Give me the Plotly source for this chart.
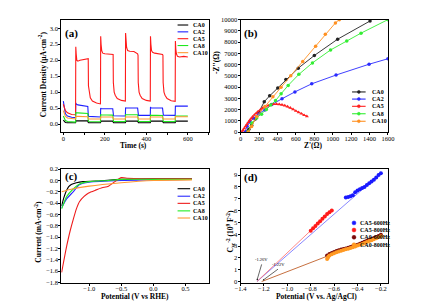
import plotly.graph_objects as go

# ---------------- Panel (a): transient photocurrent ----------------
a_names = ["CA0", "CA2", "CA5", "CA8", "CA10"]
a_colors = ["#000000", "#1f1fff", "#ff1a1a", "#1ee81e", "#ff9933"]

t_ca5 = [0, 5, 10, 20, 40, 59, 60, 62, 65, 70, 80, 100, 118, 120, 121, 125, 130, 140, 160, 179,
         180, 182, 185, 190, 200, 220, 238, 240, 241, 245, 250, 260, 280, 299,
         300, 302, 305, 310, 320, 340, 358, 360, 361, 365, 370, 380, 400, 419,
         420, 422, 425, 430, 440, 460, 478, 480, 481, 485, 490, 500, 520, 539,
         540, 542, 545, 550, 560, 580, 600]
v_ca5 = [0.62, 0.5, 0.42, 0.35, 0.3, 0.29, 2.42, 2.2, 2.0, 1.97, 2.0, 2.03, 2.07, 2.05, 1.2, 0.95, 0.82, 0.72, 0.66, 0.63,
         2.75, 2.5, 2.3, 2.22, 2.2, 2.2, 2.2, 2.18, 1.3, 1.0, 0.9, 0.8, 0.74, 0.72,
         2.85, 2.6, 2.4, 2.3, 2.28, 2.27, 2.2, 2.15, 1.3, 1.0, 0.9, 0.8, 0.74, 0.72,
         2.75, 2.5, 2.3, 2.25, 2.22, 2.2, 2.18, 2.15, 1.3, 1.0, 0.9, 0.8, 0.73, 0.71,
         2.6, 2.35, 2.2, 2.12, 2.1, 2.12, 2.1]

t_step = [0, 5, 10, 20, 40, 59, 60, 62, 70, 90, 118, 120, 122, 179, 180, 182, 238, 240, 242, 299,
          300, 302, 358, 360, 362, 419, 420, 422, 478, 480, 482, 539, 540, 542, 600]
v_ca2 = [0.72, 0.45, 0.32, 0.25, 0.21, 0.2, 0.66, 0.63, 0.6, 0.57, 0.55, 0.3, 0.24, 0.22, 0.5, 0.48, 0.48,
         0.3, 0.26, 0.25, 0.52, 0.5, 0.5, 0.3, 0.27, 0.27, 0.53, 0.51, 0.5, 0.3, 0.28, 0.27, 0.57, 0.56, 0.56]
v_ca8 = [0.25, 0.16, 0.11, 0.08, 0.07, 0.06, 0.36, 0.35, 0.35, 0.34, 0.33, 0.12, 0.08, 0.07, 0.3, 0.29, 0.28,
         0.1, 0.08, 0.08, 0.3, 0.29, 0.29, 0.1, 0.08, 0.08, 0.29, 0.28, 0.27, 0.1, 0.08, 0.08, 0.26, 0.25, 0.25]
v_ca10 = [0.42, 0.3, 0.24, 0.19, 0.17, 0.16, 0.25, 0.24, 0.24, 0.23, 0.23, 0.18, 0.16, 0.16, 0.23, 0.22, 0.22,
          0.18, 0.16, 0.16, 0.23, 0.22, 0.22, 0.18, 0.16, 0.16, 0.23, 0.22, 0.22, 0.18, 0.16, 0.16, 0.24, 0.23, 0.23]
v_ca0 = [0.12, 0.07, 0.05, 0.04, 0.04, 0.04, 0.1, 0.1, 0.1, 0.1, 0.1, 0.05, 0.04, 0.04, 0.09, 0.09, 0.09,
         0.05, 0.04, 0.04, 0.09, 0.09, 0.09, 0.05, 0.04, 0.04, 0.09, 0.09, 0.09, 0.05, 0.04, 0.04, 0.09, 0.09, 0.09]

# ---------------- Panel (b): Nyquist ----------------
b_ca0_x = [63, 90, 120, 160, 200, 257, 316, 404, 492, 626, 801, 1054, 1406]
b_ca0_y = [0, 250, 600, 1150, 1750, 2700, 3220, 3910, 4670, 5680, 6810, 8260, 9880]
b_ca2_x = [50, 70, 100, 140, 190, 264, 340, 450, 590, 773, 1037, 1395, 1600]
b_ca2_y = [0, 520, 900, 1250, 1600, 1970, 2450, 2960, 3570, 4290, 5070, 6030, 6520]
b_ca5_x = [14, 25, 40, 55, 70, 85, 100, 115, 130, 150, 170, 190, 215, 240, 270, 300, 330, 360, 390, 420,
           450, 480, 510, 540, 570, 600, 630, 660, 690, 720]
b_ca5_y = [0, 150, 330, 520, 700, 880, 1050, 1200, 1350, 1520, 1680, 1830, 1990, 2130, 2260, 2360, 2440,
           2480, 2490, 2470, 2420, 2350, 2260, 2150, 2020, 1880, 1750, 1630, 1500, 1400]
b_ca8_x = [80, 123, 175, 228, 280, 327, 380, 440, 517, 633, 780, 977, 1153, 1308, 1600]
b_ca8_y = [0, 810, 1250, 1590, 2000, 2400, 2800, 3400, 4150, 5130, 6150, 7300, 8100, 8800, 10000]
b_ca10_x = [84, 120, 176, 264, 351, 439, 545, 675, 815, 920, 1030, 1072]
b_ca10_y = [0, 500, 1390, 2260, 3130, 3980, 5000, 6280, 7640, 8700, 9710, 10000]

# ---------------- Panel (c): LSV ----------------
c_ca0_x = [-1.43, -1.40, -1.37, -1.35, -1.32, -1.28, -1.2, -1.1, -0.9, -0.5, 0.0, 0.6]
c_ca0_y = [-0.45, -0.32, -0.22, -0.17, -0.11, -0.07, -0.04, -0.02, -0.01, 0.02, 0.03, 0.03]
c_ca2_x = [-1.43, -1.35, -1.25, -1.15, -1.0, -0.5, 0.0, 0.6]
c_ca2_y = [-0.48, -0.32, -0.2, -0.07, -0.03, 0.0, 0.01, 0.02]
c_ca5_x = [-1.43, -1.41, -1.38, -1.35, -1.3, -1.25, -1.2, -1.15, -1.08, -1.01, -0.9, -0.8, -0.7,
           -0.6, -0.5, -0.4, -0.2, 0.0, 0.6]
c_ca5_y = [-1.62, -1.5, -1.32, -1.15, -0.9, -0.69, -0.5, -0.37, -0.28, -0.22, -0.17, -0.13, -0.1,
           -0.02, 0.05, 0.04, 0.03, 0.03, 0.03]
c_ca8_x = [-1.43, -1.35, -1.25, -1.15, -1.0, -0.7, -0.5, 0.0, 0.6]
c_ca8_y = [-0.5, -0.28, -0.15, -0.06, -0.02, 0.0, 0.02, 0.02, 0.02]
c_ca10_x = [-1.43, -1.3, -1.0, -0.5, 0.0, 0.6]
c_ca10_y = [-0.2, -0.16, -0.1, -0.04, 0.0, 0.01]

# ---------------- Panel (d): Mott-Schottky ----------------
d_ca5_600_x = [-0.5, -0.48, -0.46, -0.44, -0.42, -0.4, -0.38, -0.36, -0.34, -0.32, -0.3, -0.28, -0.26, -0.24, -0.22, -0.2]
d_ca5_600_y = [7.1, 7.15, 7.2, 7.3, 7.55, 7.7, 7.8, 7.9, 8.0, 8.15, 8.3, 8.45, 8.6, 8.8, 9.0, 9.15]
d_ca5_800_x = [-0.8, -0.78, -0.76, -0.74, -0.72, -0.7, -0.68, -0.66, -0.64, -0.62]
d_ca5_800_y = [4.3, 4.5, 4.7, 4.9, 5.1, 5.3, 5.5, 5.7, 5.85, 6.0]
d_ca0_600_x = [-0.66, -0.64, -0.62, -0.6, -0.58, -0.56, -0.54, -0.52, -0.5, -0.48, -0.46, -0.44, -0.42,
               -0.4, -0.38, -0.36, -0.34, -0.32, -0.3, -0.28, -0.26, -0.24, -0.22, -0.2]
d_ca0_600_y = [2.2, 2.32, 2.42, 2.5, 2.58, 2.64, 2.7, 2.75, 2.8, 2.86, 2.92, 2.98, 3.05, 3.12, 3.2, 3.28,
               3.36, 3.44, 3.52, 3.6, 3.68, 3.76, 3.85, 3.95]
d_ca0_800_x = [-0.66, -0.655, -0.65, -0.64, -0.62, -0.6, -0.58, -0.56, -0.54, -0.52, -0.5, -0.48, -0.46, -0.44,
               -0.42, -0.4, -0.38, -0.36, -0.34, -0.32, -0.3, -0.28, -0.26, -0.24, -0.22, -0.2]
d_ca0_800_y = [1.9, 2.0, 2.1, 2.2, 2.3, 2.4, 2.48, 2.55, 2.6, 2.66, 2.72, 2.78, 2.84, 2.9, 2.97, 3.04,
               3.11, 3.18, 3.26, 3.34, 3.42, 3.5, 3.58, 3.66, 3.74, 3.82]
d_fit_ca5_blue_x = [-1.26, -0.2]
d_fit_ca5_blue_y = [0.0, 9.15]
d_fit_ca5_red_x = [-1.26, -0.62]
d_fit_ca5_red_y = [0.0, 6.0]
d_fit_ca0_x = [-1.22, -0.2]
d_fit_ca0_y = [0.0, 3.9]
d_names = ["CA5-600Hz", "CA5-800Hz", "CA0-600Hz", "CA0-800Hz"]
d_colors = ["#1a1aff", "#ff1a1a", "#7a0a0a", "#ff9922"]

FONT = "Liberation Serif"
fig = go.Figure()

# (a)
a_x = [t_step, t_step, t_ca5, t_step, t_step]
a_y = [v_ca0, v_ca2, v_ca5, v_ca8, v_ca10]
for n, c, xx, yy in zip(a_names, a_colors, a_x, a_y):
    fig.add_trace(go.Scatter(x=xx, y=yy, mode="lines", line=dict(color=c, width=1.1),
                             xaxis="x", yaxis="y", showlegend=False, name=n))
# (b)
b_x = [b_ca0_x, b_ca2_x, b_ca5_x, b_ca8_x, b_ca10_x]
b_y = [b_ca0_y, b_ca2_y, b_ca5_y, b_ca8_y, b_ca10_y]
b_colors = ["#222222", "#2a2aff", "#ff2020", "#33ee33", "#ff9122"]
b_sym = ["circle", "circle", "triangle-up", "circle", "circle"]
for n, c, xx, yy, s in zip(a_names, b_colors, b_x, b_y, b_sym):
    fig.add_trace(go.Scatter(x=xx, y=yy, mode="lines+markers", line=dict(color=c, width=0.9),
                             marker=dict(color=c, size=3.5, symbol=s),
                             xaxis="x2", yaxis="y2", showlegend=False, name=n))
# (c)
c_x = [c_ca0_x, c_ca2_x, c_ca5_x, c_ca8_x, c_ca10_x]
c_y = [c_ca0_y, c_ca2_y, c_ca5_y, c_ca8_y, c_ca10_y]
c_colors = ["#000000", "#2a2aff", "#ee1c1c", "#22ee22", "#ff9933"]
for n, c, xx, yy in zip(a_names, c_colors, c_x, c_y):
    fig.add_trace(go.Scatter(x=xx, y=yy, mode="lines", line=dict(color=c, width=1.1, shape="spline", smoothing=0.6),
                             xaxis="x3", yaxis="y3", showlegend=False, name=n))
# (d) fit lines
fig.add_trace(go.Scatter(x=d_fit_ca5_blue_x, y=d_fit_ca5_blue_y, mode="lines", line=dict(color="#6a6aff", width=0.8),
                         xaxis="x4", yaxis="y4", showlegend=False))
fig.add_trace(go.Scatter(x=d_fit_ca5_red_x, y=d_fit_ca5_red_y, mode="lines", line=dict(color="#ff6a6a", width=0.8),
                         xaxis="x4", yaxis="y4", showlegend=False))
fig.add_trace(go.Scatter(x=d_fit_ca0_x, y=d_fit_ca0_y, mode="lines", line=dict(color="#c0602a", width=0.9),
                         xaxis="x4", yaxis="y4", showlegend=False))
d_x = [d_ca5_600_x, d_ca5_800_x, d_ca0_600_x, d_ca0_800_x]
d_y = [d_ca5_600_y, d_ca5_800_y, d_ca0_600_y, d_ca0_800_y]
for n, c, xx, yy in zip(d_names, d_colors, d_x, d_y):
    fig.add_trace(go.Scatter(x=xx, y=yy, mode="markers", marker=dict(color=c, size=4),
                             xaxis="x4", yaxis="y4", showlegend=False, name=n))

W, H = 424, 307
def px(x):
    return x / W
def py(y):
    return 1 - y / H

tickf = dict(family=FONT, size=6.5, color="black")
titlef = dict(family=FONT, size=7.5, color="black")

def ax(domain, rng, dtick, anchor, minor=None, fmt=None, standoff=0):
    d = dict(domain=domain, range=rng, anchor=anchor, showgrid=False, zeroline=False,
             showline=True, linecolor="black", linewidth=1, mirror=True,
             ticks="outside", ticklen=2, tickwidth=0.8, tickcolor="black",
             tickfont=tickf, ticklabelstandoff=standoff)
    if dtick is not None:
        d["dtick"] = dtick
    if fmt is not None:
        d["tickformat"] = fmt
    if minor is not None:
        d["minor"] = dict(dtick=minor, ticks="outside", ticklen=1.5, tickcolor="black")
    return d

xa_dom = [px(57), px(209)]
xb_dom = [px(242), px(394)]
ytop_dom = [py(131), py(16)]
ybot_dom = [py(285), py(169)]

fig.update_layout(
    width=W, height=H, margin=dict(l=0, r=0, t=0, b=0),
    paper_bgcolor="white", plot_bgcolor="white", showlegend=False,
    font=dict(family=FONT, color="black"),
    xaxis=ax(xa_dom, [-10, 700], 200, "y", minor=100, fmt="d", standoff=-2),
    yaxis=ax(ytop_dom, [-0.25, 3.27], 0.5, "x", fmt=".1f", standoff=-1),
    xaxis2=ax(xb_dom, [0, 1600], 200, "y2", fmt="d", standoff=-2),
    yaxis2=ax(ytop_dom, [0, 10000], 1000, "x2", fmt="d", standoff=-1),
    xaxis3=ax(xa_dom, [-1.436, 0.86], 0.5, "y3", fmt=".1f", standoff=-2),
    yaxis3=ax(ybot_dom, [-1.8, 0.2], 0.2, "x3", fmt=".1f", standoff=-1),
    xaxis4=ax(xb_dom, [-1.4, -0.14], 0.2, "y4", fmt=".1f", standoff=-2),
    yaxis4=ax(ybot_dom, [-0.08, 9.5], 1, "x4", fmt="d", standoff=-1),
)

shapes = []
annots = []
# axis titles
titles = [
    ("<b>Time (s)</b>", 132, 145, 0),
    ("<b>Current Density (μA·cm<sup>-2</sup>)</b>", 38, 72, -90),
    ("<b>Z'(Ω)</b>", 317, 145, 0),
    ("<b>-Z''(Ω)</b>", 217, 60, -90),
    ("<b>Potential (V vs RHE)</b>", 133, 299.5, 0),
    ("<b>Current (mA·cm<sup>-2</sup>)</b>", 33, 233, -90),
    ("<b>Potential (V vs. Ag/AgCl)</b>", 320, 299.5, 0),
    ("<b>C<sub>sc</sub><sup>-2</sup> (10<sup>9</sup> F<sup>-2</sup>)</b>", 232, 232, -90),
]
for txt, x, y, ang in titles:
    annots.append(dict(text=txt, x=px(x), y=py(y), xref="paper", yref="paper", xanchor="center",
                       yanchor="middle", textangle=ang, showarrow=False, font=titlef))
# panel labels
for lab, x, y in [("(a)", 59, 30), ("(b)", 243, 30), ("(c)", 59, 177), ("(d)", 243, 178)]:
    annots.append(dict(text="<b>%s</b>" % lab, x=px(x), y=py(y), xref="paper", yref="paper",
                       xanchor="left", yanchor="middle", showarrow=False,
                       font=dict(family=FONT, size=11, color="black")))

legf = dict(family=FONT, size=6, color="black")
def line_legend(names, colors, x0, x1, xt, ys, markers=None):
    for i, (n, c, y) in enumerate(zip(names, colors, ys)):
        shapes.append(dict(type="line", xref="paper", yref="paper", x0=px(x0), x1=px(x1), y0=py(y), y1=py(y),
                           line=dict(color=c, width=1.1)))
        if markers:
            xm = (x0 + x1) / 2
            r = 1.5
            shapes.append(dict(type="circle", xref="paper", yref="paper", x0=px(xm - r), x1=px(xm + r),
                               y0=py(y + r), y1=py(y - r), fillcolor=c, line=dict(color=c, width=0.5)))
        annots.append(dict(text="<b>%s</b>" % n, x=px(xt), y=py(y), xref="paper", yref="paper",
                           xanchor="left", yanchor="middle", showarrow=False, font=legf))

line_legend(a_names, a_colors, 177, 188, 191, [21.5, 28.5, 35.5, 42.5, 49.8])
line_legend(a_names, b_colors, 357, 371, 375, [90, 97.3, 104.7, 112.3, 120], markers=True)
line_legend(a_names, c_colors, 177, 190, 191, [189, 196.7, 204, 211.7, 219])
for n, c, y in zip(d_names, d_colors, [224, 231.3, 238.7, 246.3]):
    shapes.append(dict(type="circle", xref="paper", yref="paper", x0=px(357), x1=px(361),
                       y0=py(y + 2), y1=py(y - 2), fillcolor=c, line=dict(color=c, width=0.5)))
    annots.append(dict(text="<b>%s</b>" % n, x=px(363), y=py(y), xref="paper", yref="paper",
                       xanchor="left", yanchor="middle", showarrow=False, font=legf))

# (d) intercept annotations
annots.append(dict(text="-1.26V", x=-1.26, y=0.1, ax=-1.22, ay=1.45, xref="x4", yref="y4",
                   axref="x4", ayref="y4", showarrow=True, arrowhead=2, arrowsize=0.5, arrowwidth=0.6,
                   arrowcolor="black", font=dict(family=FONT, size=4.5, color="black"), yanchor="bottom"))
annots.append(dict(text="-1.22V", x=-1.21, y=0.1, ax=-1.08, ay=1.05, xref="x4", yref="y4",
                   axref="x4", ayref="y4", showarrow=True, arrowhead=2, arrowsize=0.5, arrowwidth=0.6,
                   arrowcolor="black", font=dict(family=FONT, size=4.5, color="black"), yanchor="bottom"))

fig.update_layout(shapes=shapes, annotations=annots)
fig.write_html("out.html", config={"displayModeBar": False},
               post_script="document.body.style.margin='0';document.body.style.padding='0';")
